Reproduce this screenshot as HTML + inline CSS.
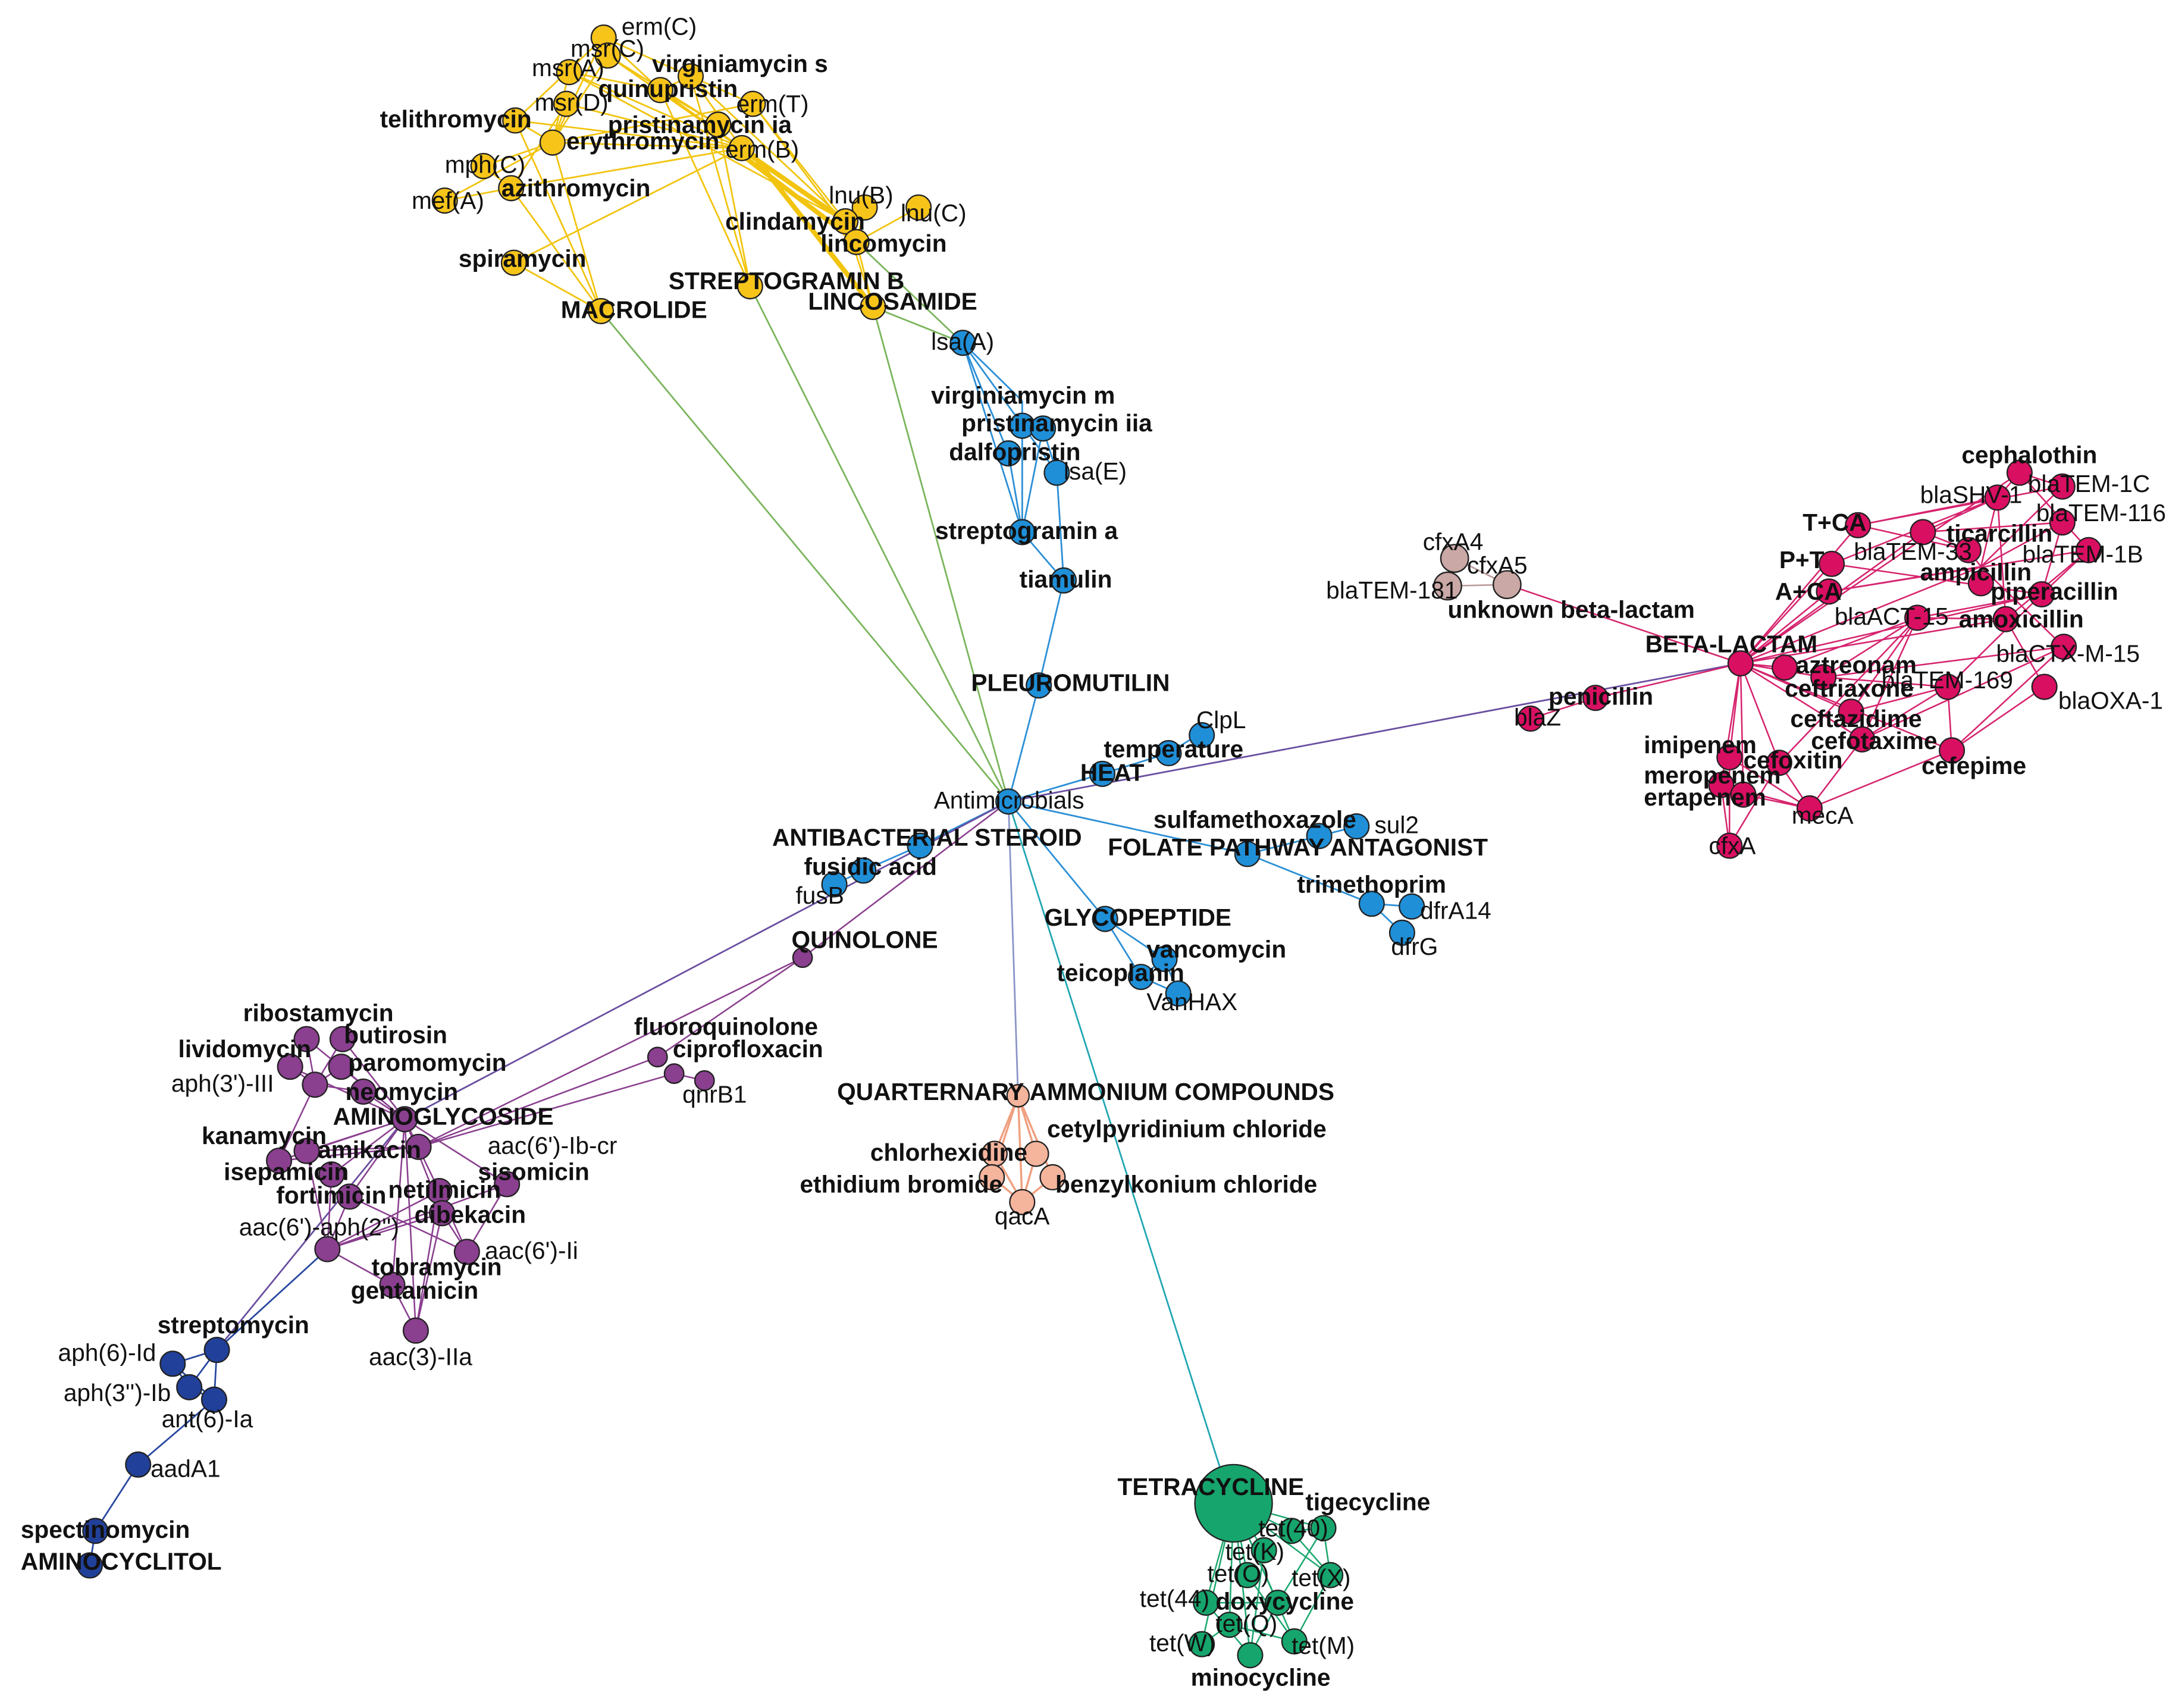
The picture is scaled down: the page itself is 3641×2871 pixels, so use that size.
<!DOCTYPE html>
<html><head><meta charset="utf-8"><style>
html,body{margin:0;padding:0;background:#fff}
svg{display:block}
text{font-family:"Liberation Sans",Arial,sans-serif;font-size:17.5px;fill:#111}
.b text{font-weight:bold}
circle{stroke:#222;stroke-width:1}
</style></head><body>
<svg width="3641" height="2871" viewBox="0 0 1568 1236" xmlns="http://www.w3.org/2000/svg">
<rect width="1568" height="1236" fill="#fff"/>
<g fill="none" stroke-width="1.2">
<path stroke="#7ab55c" d="M730 580L435 225M730 580L543 207M730 580L632 222M632 222L697 248M620 175L697 248"/>
<path stroke="#2b8fd6" d="M730 580L752 496M752 496L770 420M770 420L765 342M770 420L740 385M740 385L697 248M765 342L697 248M740 290L740 385M755 310L740 385M730 328L740 385M730 328L697 248M740 290L697 248M755 310L765 342M730 580L798 560M798 560L846 545M846 545L870 530M730 580L903 618M903 618L955 605M955 605L982 598M903 618L993 654M993 654L1022 656M993 654L1015 675M730 580L666 612M666 612L625 630M625 630L604 640M730 580L800 665M800 665L843 694M800 665L826 707M843 694L853 719M826 707L853 719M843 694L826 707"/>
<path stroke="#6a4fa0" d="M730 580L1260 480M730 580L293 810M293 810L157 977"/>
<path stroke="#8a95c8" d="M730 580L737 793"/>
<path stroke="#22a6b3" d="M730 580L885 1068"/>
<path stroke="#2848a0" d="M237 904L157 977M157 977L125 987M157 977L137 1004M157 977L155 1013M125 987L137 1004M125 987L155 1013M137 1004L155 1013M155 1013L100 1060M100 1060L69 1108M69 1108L65 1133"/>
</g>
<path fill="none" stroke="#f2c40f" stroke-width="1.2" d="M435 225L400 103M435 225L370 136M435 225L372 190M435 225L373 87M437 27L400 103M437 27L478 65M440 40L400 103M412 52L400 103M412 52L478 65M410 75L400 103M410 75L370 136M400 103L350 120M350 120L370 136M322 145L370 136M322 145L400 103M537 107L400 103M545 75L400 103M545 75L612 160M537 107L478 65M500 55L537 107M520 90L543 207M478 65L543 207M500 55L543 207M626 150L620 175M665 150L620 175M626 150L612 160M612 160L632 222M620 175L632 222M373 87L537 107M372 190L537 107M400 103L373 87M437 27L373 87M440 40L537 107M412 52L537 107M410 75L537 107M437 27L545 75M440 40L520 90M478 65L520 90M500 55L478 65M370 136L537 107M545 75L620 175M440 40L612 160M412 52L612 160M500 55L612 160"/>
<path fill="none" stroke="#f2c40f" stroke-width="3.5" d="M537 112L620 175M540 110L612 160M542 108L632 222"/>
<path fill="none" stroke="#8a3f8f" stroke-width="1.1" d="M293 810L222 752M293 810L248 752M293 810L210 772M293 810L247 772M293 810L263 790M293 810L202 840M293 810L222 833M293 810L240 850M293 810L253 866M293 810L318 862M293 810L320 878M293 810L367 857M293 810L284 930M293 810L301 963M228 785L222 752M228 785L248 752M228 785L210 772M228 785L247 772M228 785L263 790M303 830L202 840M303 830L222 833M303 830L581 693M303 830L476 765M303 830L488 777M488 777L510 782M476 765L581 693M237 904L222 833M237 904L240 850M237 904L253 866M237 904L318 862M237 904L320 878M237 904L367 857M237 904L284 930M338 906L318 862M338 906L367 857M338 906L253 866M338 906L320 878M301 963L284 930M301 963L320 878M301 963L318 862M284 930L237 904M202 840L228 785M730 580L581 693"/>
<path fill="none" stroke="#d6246e" stroke-width="1.1" d="M1260 480L1345 380M1260 480L1326 408M1260 480L1324 428M1260 480L1392 385M1260 480L1434 410M1260 480L1452 448M1260 480L1478 430M1260 480L1462 342M1260 480L1292 483M1260 480L1320 490M1260 480L1340 515M1260 480L1348 535M1260 480L1252 548M1260 480L1288 552M1260 480L1246 568M1260 480L1262 575M1260 480L1413 543M1260 480L1155 505M1155 505L1108 520M1260 480L1091 423M1446 360L1462 342M1446 360L1392 385M1446 360L1434 410M1446 360L1452 448M1493 352L1462 342M1493 352L1434 410M1493 378L1434 410M1493 378L1478 430M1512 398L1452 448M1512 398L1478 430M1425 398L1345 380M1425 398L1392 385M1425 398L1434 410M1388 447L1320 490M1388 447L1292 483M1388 447L1340 515M1388 447L1348 535M1388 447L1288 552M1494 468L1348 535M1494 468L1320 490M1494 468L1413 543M1410 497L1320 490M1410 497L1340 515M1410 497L1348 535M1410 497L1413 543M1480 497L1452 448M1480 497L1413 543M1310 585L1252 548M1310 585L1288 552M1310 585L1246 568M1310 585L1262 575M1310 585L1348 535M1310 585L1413 543M1252 612L1252 548M1252 612L1246 568M1252 612L1288 552M1345 380L1446 360M1326 408L1446 360M1324 428L1434 410M1345 380L1493 352M1326 408L1478 430M1324 428L1512 398M1434 410L1494 468M1478 430L1410 497M1392 385L1493 378M1462 342L1512 398M1388 447L1478 430M1388 447L1452 448"/>
<path fill="none" stroke="#b99" stroke-width="1.1" d="M1053 404L1091 423M1053 404L1048 424M1048 424L1091 423"/>
<path fill="none" stroke="#f0a080" stroke-width="1.5" d="M737 793L720 835M737 793L750 835M737 793L762 852M737 793L718 852M737 793L740 870M720 835L740 870M762 852L740 870M718 852L740 870M750 835L740 870"/>
<path fill="none" stroke="#1ea870" stroke-width="1.1" d="M893 1088L958 1106M893 1088L935 1108M893 1088L915 1122M893 1088L903 1140M893 1088L963 1140M893 1088L873 1160M893 1088L925 1160M893 1088L890 1176M893 1088L870 1190M893 1088L937 1188M893 1088L905 1198M935 1108L958 1106M935 1108L963 1140M958 1106L963 1140M963 1140L937 1188M925 1160L958 1106M925 1160L873 1160M925 1160L905 1198M890 1176L870 1190M890 1176L937 1188M903 1140L937 1188M915 1122L905 1198M873 1160L905 1198"/>
<g fill="#f7c41a">
<circle cx="437" cy="27" r="9"/><circle cx="440" cy="40" r="9"/><circle cx="412" cy="52" r="9"/><circle cx="500" cy="55" r="9"/><circle cx="478" cy="65" r="9"/><circle cx="410" cy="75" r="9"/><circle cx="545" cy="75" r="9"/><circle cx="373" cy="87" r="9"/><circle cx="520" cy="90" r="9"/><circle cx="400" cy="103" r="9"/><circle cx="537" cy="107" r="9"/><circle cx="350" cy="120" r="9"/><circle cx="370" cy="136" r="9"/><circle cx="322" cy="145" r="9"/><circle cx="626" cy="150" r="9"/><circle cx="665" cy="150" r="9"/><circle cx="612" cy="160" r="9"/><circle cx="620" cy="175" r="9"/><circle cx="372" cy="190" r="9"/><circle cx="543" cy="207" r="9"/><circle cx="435" cy="225" r="9"/><circle cx="632" cy="222" r="9"/>
</g>
<g fill="#1f8fd8">
<circle cx="697" cy="248" r="9"/><circle cx="740" cy="308" r="9"/><circle cx="755" cy="310" r="9"/><circle cx="730" cy="328" r="9"/><circle cx="765" cy="342" r="9"/><circle cx="740" cy="385" r="9"/><circle cx="770" cy="420" r="9"/><circle cx="752" cy="496" r="9"/><circle cx="870" cy="532" r="9"/><circle cx="846" cy="545" r="9"/><circle cx="798" cy="560" r="9"/><circle cx="730" cy="580" r="9"/><circle cx="955" cy="605" r="9"/><circle cx="982" cy="598" r="9"/><circle cx="903" cy="618" r="9"/><circle cx="666" cy="612" r="9"/><circle cx="625" cy="630" r="9"/><circle cx="604" cy="640" r="9"/><circle cx="993" cy="654" r="9"/><circle cx="1022" cy="656" r="9"/><circle cx="1015" cy="675" r="9"/><circle cx="800" cy="665" r="9"/><circle cx="843" cy="694" r="9"/><circle cx="826" cy="707" r="9"/><circle cx="853" cy="719" r="9"/>
</g>
<g fill="#d90f62">
<circle cx="1462" cy="342" r="9"/><circle cx="1493" cy="352" r="9"/><circle cx="1446" cy="360" r="9"/><circle cx="1345" cy="380" r="9"/><circle cx="1493" cy="378" r="9"/><circle cx="1392" cy="385" r="9"/><circle cx="1425" cy="398" r="9"/><circle cx="1512" cy="398" r="9"/><circle cx="1326" cy="408" r="9"/><circle cx="1434" cy="422" r="9"/><circle cx="1478" cy="430" r="9"/><circle cx="1324" cy="428" r="9"/><circle cx="1388" cy="447" r="9"/><circle cx="1452" cy="448" r="9"/><circle cx="1260" cy="480" r="9"/><circle cx="1494" cy="468" r="9"/><circle cx="1292" cy="483" r="9"/><circle cx="1320" cy="490" r="9"/><circle cx="1410" cy="497" r="9"/><circle cx="1480" cy="497" r="9"/><circle cx="1155" cy="505" r="9"/><circle cx="1108" cy="520" r="9"/><circle cx="1340" cy="515" r="9"/><circle cx="1348" cy="535" r="9"/><circle cx="1252" cy="548" r="9"/><circle cx="1288" cy="552" r="9"/><circle cx="1413" cy="543" r="9"/><circle cx="1246" cy="568" r="9"/><circle cx="1262" cy="575" r="9"/><circle cx="1310" cy="585" r="9"/><circle cx="1252" cy="612" r="9"/>
</g>
<g fill="#c9a8a5">
<circle cx="1053" cy="404" r="10"/><circle cx="1091" cy="423" r="10"/><circle cx="1048" cy="424" r="10"/>
</g>
<g fill="#8a3f8f">
<circle cx="581" cy="693" r="7"/><circle cx="476" cy="765" r="7"/><circle cx="488" cy="777" r="7"/><circle cx="510" cy="782" r="7"/><circle cx="222" cy="752" r="9"/><circle cx="248" cy="752" r="9"/><circle cx="210" cy="772" r="9"/><circle cx="247" cy="772" r="9"/><circle cx="228" cy="785" r="9"/><circle cx="263" cy="790" r="9"/><circle cx="293" cy="810" r="9"/><circle cx="202" cy="840" r="9"/><circle cx="222" cy="833" r="9"/><circle cx="303" cy="830" r="9"/><circle cx="240" cy="850" r="9"/><circle cx="367" cy="857" r="9"/><circle cx="253" cy="866" r="9"/><circle cx="318" cy="862" r="9"/><circle cx="320" cy="878" r="9"/><circle cx="237" cy="904" r="9"/><circle cx="338" cy="906" r="9"/><circle cx="284" cy="930" r="9"/><circle cx="301" cy="963" r="9"/>
</g>
<g fill="#21409a">
<circle cx="157" cy="977" r="9"/><circle cx="125" cy="987" r="9"/><circle cx="137" cy="1004" r="9"/><circle cx="155" cy="1013" r="9"/><circle cx="100" cy="1060" r="9"/><circle cx="69" cy="1108" r="9"/><circle cx="65" cy="1133" r="9"/>
</g>
<g fill="#f5b49c">
<circle cx="737" cy="793" r="8"/><circle cx="720" cy="835" r="9"/><circle cx="750" cy="835" r="9"/><circle cx="762" cy="852" r="9"/><circle cx="718" cy="852" r="9"/><circle cx="740" cy="870" r="9"/>
</g>
<g fill="#16a56c">
<circle cx="893" cy="1088" r="28"/><circle cx="958" cy="1106" r="9"/><circle cx="935" cy="1108" r="9"/><circle cx="915" cy="1122" r="9"/><circle cx="903" cy="1140" r="9"/><circle cx="963" cy="1140" r="9"/><circle cx="873" cy="1160" r="9"/><circle cx="925" cy="1160" r="9"/><circle cx="890" cy="1176" r="9"/><circle cx="870" cy="1190" r="9"/><circle cx="937" cy="1188" r="9"/><circle cx="905" cy="1198" r="9"/>
</g>
<g>
<text x="450" y="25">erm(C)</text><text x="413" y="41">msr(C)</text><text x="385" y="55">msr(A)</text><text x="387" y="80">msr(D)</text><text x="533" y="81">erm(T)</text><text x="525" y="114">erm(B)</text><text x="322" y="125">mph(C)</text><text x="298" y="151">mef(A)</text><text x="600" y="147">lnu(B)</text><text x="652" y="160">lnu(C)</text>
<text x="674" y="253">lsa(A)</text><text x="770" y="347">lsa(E)</text><text x="866" y="527">ClpL</text><text x="676" y="585">Antimicrobials</text><text x="995" y="603">sul2</text><text x="576" y="654">fusB</text><text x="1028" y="665">dfrA14</text><text x="1007" y="691">dfrG</text><text x="830" y="731">VanHAX</text>
<text x="1468" y="356">blaTEM-1C</text><text x="1390" y="364">blaSHV-1</text><text x="1474" y="377">blaTEM-116</text><text x="1342" y="405">blaTEM-33</text><text x="1464" y="407">blaTEM-1B</text><text x="1328" y="452">blaACT-15</text><text x="1445" y="479">blaCTX-M-15</text><text x="1362" y="498">blaTEM-169</text><text x="1490" y="513">blaOXA-1</text><text x="1096" y="525">blaZ</text><text x="1297" y="596">mecA</text><text x="1237" y="618">cfxA</text>
<text x="1030" y="398">cfxA4</text><text x="1062" y="415">cfxA5</text><text x="960" y="433">blaTEM-181</text>
<text x="494" y="798">qnrB1</text><text x="124" y="790">aph(3')-III</text><text x="353" y="835">aac(6')-Ib-cr</text><text x="173" y="894">aac(6')-aph(2'')</text><text x="351" y="911">aac(6')-Ii</text><text x="267" y="988">aac(3)-IIa</text>
<text x="42" y="985">aph(6)-Id</text><text x="46" y="1014">aph(3'')-Ib</text><text x="117" y="1033">ant(6)-Ia</text><text x="109" y="1069">aadA1</text>
<text x="720" y="886">qacA</text>
<text x="911" y="1112">tet(40)</text><text x="887" y="1129">tet(K)</text><text x="874" y="1145">tet(O)</text><text x="935" y="1148">tet(X)</text><text x="825" y="1163">tet(44)</text><text x="880" y="1181">tet(Q)</text><text x="832" y="1195">tet(W)</text><text x="935" y="1197">tet(M)</text>
</g>
<g class="b">
<text x="472" y="52">virginiamycin s</text><text x="433" y="70">quinupristin</text><text x="275" y="92">telithromycin</text><text x="440" y="96">pristinamycin ia</text><text x="410" y="108">erythromycin</text><text x="363" y="142">azithromycin</text><text x="525" y="166">clindamycin</text><text x="594" y="182">lincomycin</text><text x="332" y="193">spiramycin</text><text x="484" y="209">STREPTOGRAMIN B</text><text x="406" y="230">MACROLIDE</text><text x="585" y="224">LINCOSAMIDE</text>
<text x="674" y="292">virginiamycin m</text><text x="696" y="312">pristinamycin iia</text><text x="687" y="333">dalfopristin</text><text x="677" y="390">streptogramin a</text><text x="738" y="425">tiamulin</text><text x="703" y="500">PLEUROMUTILIN</text><text x="799" y="548">temperature</text><text x="782" y="565">HEAT</text><text x="835" y="599">sulfamethoxazole</text><text x="802" y="619">FOLATE PATHWAY ANTAGONIST</text><text x="559" y="612">ANTIBACTERIAL STEROID</text><text x="582" y="633">fusidic acid</text><text x="939" y="646">trimethoprim</text><text x="756" y="670">GLYCOPEPTIDE</text><text x="830" y="693">vancomycin</text><text x="765" y="710">teicoplanin</text>
<text x="1420" y="335">cephalothin</text><text x="1305" y="384">T+CA</text><text x="1409" y="392">ticarcillin</text><text x="1288" y="411">P+T</text><text x="1390" y="420">ampicillin</text><text x="1441" y="434">piperacillin</text><text x="1285" y="434">A+CA</text><text x="1418" y="454">amoxicillin</text><text x="1191" y="472">BETA-LACTAM</text><text x="1300" y="487">aztreonam</text><text x="1292" y="504">ceftriaxone</text><text x="1121" y="510">penicillin</text><text x="1296" y="526">ceftazidime</text><text x="1311" y="542">cefotaxime</text><text x="1190" y="545">imipenem</text><text x="1262" y="556">cefoxitin</text><text x="1391" y="560">cefepime</text><text x="1190" y="567">meropenem</text><text x="1190" y="583">ertapenem</text>
<text x="1048" y="447">unknown beta-lactam</text>
<text x="573" y="686">QUINOLONE</text><text x="459" y="749">fluoroquinolone</text><text x="487" y="765">ciprofloxacin</text><text x="176" y="739">ribostamycin</text><text x="249" y="755">butirosin</text><text x="129" y="765">lividomycin</text><text x="252" y="775">paromomycin</text><text x="250" y="796">neomycin</text><text x="241" y="814">AMINOGLYCOSIDE</text><text x="146" y="828">kanamycin</text><text x="230" y="838">amikacin</text><text x="162" y="854">isepamicin</text><text x="346" y="854">sisomicin</text><text x="200" y="871">fortimicin</text><text x="281" y="867">netilmicin</text><text x="300" y="885">dibekacin</text><text x="269" y="923">tobramycin</text><text x="254" y="940">gentamicin</text>
<text x="114" y="965">streptomycin</text><text x="15" y="1113">spectinomycin</text><text x="15" y="1136">AMINOCYCLITOL</text>
<text x="606" y="796">QUARTERNARY AMMONIUM COMPOUNDS</text><text x="758" y="823">cetylpyridinium chloride</text><text x="630" y="840">chlorhexidine</text><text x="764" y="863">benzylkonium chloride</text><text x="579" y="863">ethidium bromide</text>
<text x="809" y="1082">TETRACYCLINE</text><text x="945" y="1093">tigecycline</text><text x="880" y="1165">doxycycline</text><text x="862" y="1220">minocycline</text>
</g>
</svg>
</body></html>
